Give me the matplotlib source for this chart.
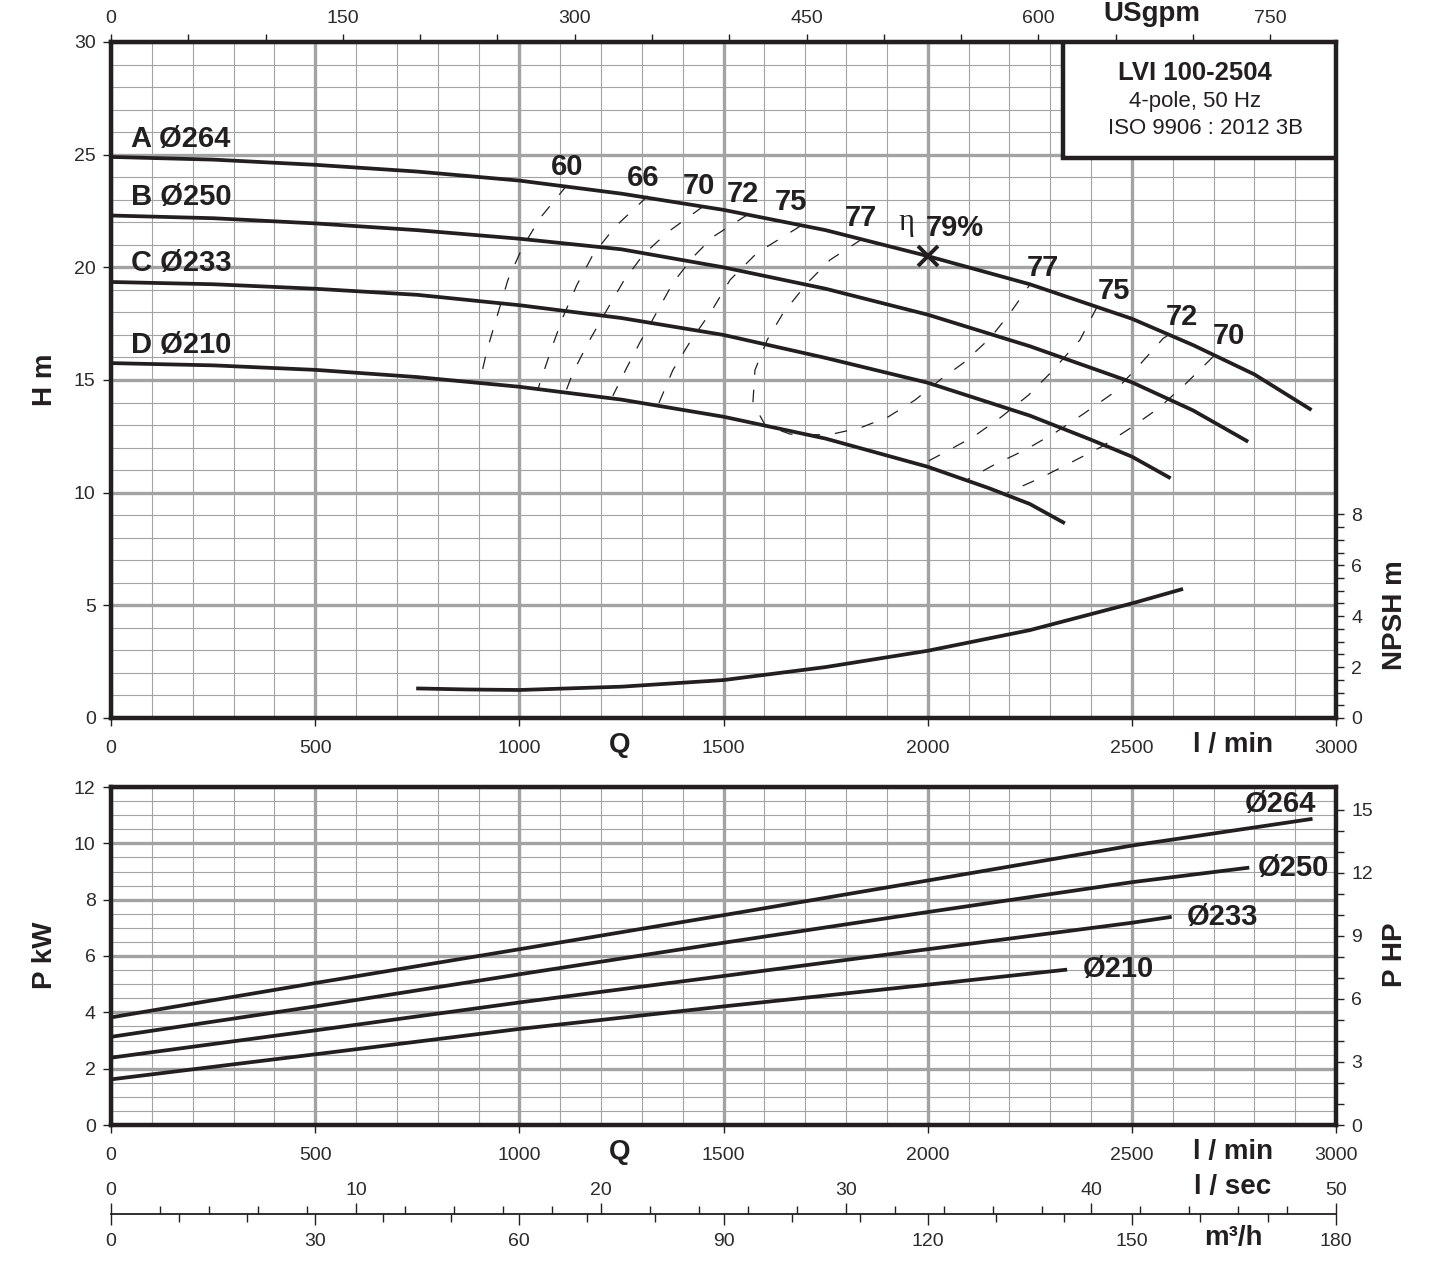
import matplotlib.pyplot as plt
from matplotlib.patches import Rectangle
from matplotlib.ticker import MultipleLocator

plt.rcParams['font.family'] = ['Liberation Sans', 'DejaVu Sans']

INK = '#231f20'
GRID = '#a3a3a3'
TXT = '#2b2b2b'

# head curves (Q l/min, H m)
q_a = [0, 250, 500, 750, 1000, 1250, 1500, 1750, 2000, 2250, 2500, 2650, 2800, 2940]
h_a = [24.9, 24.78, 24.55, 24.25, 23.85, 23.27, 22.55, 21.65, 20.5, 19.25, 17.72, 16.55, 15.25, 13.67]
q_b = [0, 250, 500, 750, 1000, 1250, 1500, 1750, 2000, 2250, 2500, 2650, 2785]
h_b = [22.3, 22.18, 21.95, 21.65, 21.27, 20.8, 20.0, 19.05, 17.9, 16.5, 14.9, 13.65, 12.26]
q_c = [0, 250, 500, 750, 1000, 1250, 1500, 1750, 2000, 2250, 2400, 2500, 2595]
h_c = [19.35, 19.25, 19.05, 18.78, 18.32, 17.75, 17.0, 15.98, 14.88, 13.42, 12.35, 11.6, 10.64]
q_d = [0, 250, 500, 750, 1000, 1250, 1500, 1750, 2000, 2150, 2250, 2336]
h_d = [15.75, 15.65, 15.45, 15.13, 14.7, 14.13, 13.37, 12.4, 11.15, 10.2, 9.5, 8.64]
head_labels = ['A Ø264', 'B Ø250', 'C Ø233', 'D Ø210']
head_label_h = [25.7, 23.12, 20.19, 16.55]

# NPSH (m)
q_npsh = [752, 875, 1000, 1250, 1500, 1750, 2000, 2250, 2500, 2621]
npsh = [1.16, 1.12, 1.10, 1.23, 1.49, 2.0, 2.64, 3.45, 4.5, 5.05]

# iso-efficiency lines (Q, H)
eta_lines = [
    [(1117, 23.65), (1051, 22.19), (1007, 20.86), (972, 19.44), (945, 17.8), (921, 16.33), (904, 15.0)],
    [(1315, 23.17), (1234, 21.79), (1180, 20.55), (1141, 19.22), (1107, 17.8), (1080, 16.46), (1046, 14.62)],
    [(1450, 22.7), (1364, 21.57), (1303, 20.55), (1254, 19.35), (1210, 17.97), (1168, 16.64), (1131, 15.31), (1115, 14.55)],
    [(1560, 22.35), (1474, 21.35), (1423, 20.41), (1376, 19.3), (1337, 18.02), (1296, 16.69), (1264, 15.58), (1229, 14.3)],
    [(1690, 21.85), (1582, 20.64), (1516, 19.44), (1472, 18.1), (1418, 16.69), (1376, 15.44), (1340, 13.9)],
    [(1839, 21.25), (1761, 20.33), (1705, 19.3), (1646, 17.97), (1607, 16.78), (1577, 15.44), (1572, 13.98),
     (1602, 13.0), (1663, 12.6), (1756, 12.56), (1834, 12.87), (1903, 13.36), (1969, 14.11), (2030, 15.0),
     (2087, 15.75), (2153, 16.86), (2202, 17.97), (2251, 19.25)],
    [(2415, 18.25), (2373, 16.78), (2300, 15.3), (2247, 14.33), (2181, 13.37), (2112, 12.48), (2040, 11.77), (1993, 11.32)],
    [(2590, 17.0), (2577, 16.85), (2504, 15.37), (2451, 14.38), (2381, 13.49), (2312, 12.66), (2238, 11.89), (2162, 11.23), (2099, 10.6)],
    [(2700, 16.05), (2630, 14.8), (2565, 13.74), (2496, 12.86), (2426, 12.04), (2350, 11.33), (2275, 10.64), (2195, 10.0)],
]
eta_text = ['60', '66', '70', '72', '75', '77', '77', '75', '72', '70']
eta_text_q = [1117, 1303, 1440, 1548, 1665, 1837, 2282, 2456, 2622, 2738]
eta_text_h = [24.45, 23.97, 23.61, 23.26, 22.9, 22.2, 19.97, 18.95, 17.8, 16.95]
bep_q, bep_h = 2000, 20.5

# power curves (kW)
q_p264 = [0, 500, 1000, 1500, 2000, 2500, 2938]
p264 = [3.82, 5.04, 6.24, 7.45, 8.68, 9.92, 10.86]
q_p250 = [0, 500, 1000, 1500, 2000, 2500, 2783]
p250 = [3.13, 4.21, 5.35, 6.47, 7.56, 8.62, 9.13]
q_p233 = [0, 500, 1000, 1500, 2000, 2500, 2593]
p233 = [2.39, 3.36, 4.35, 5.29, 6.24, 7.18, 7.38]
q_p210 = [0, 500, 1000, 1500, 2000, 2337]
p210 = [1.62, 2.51, 3.41, 4.21, 4.98, 5.51]
power_labels = ['Ø264', 'Ø250', 'Ø233', 'Ø210']
power_label_q = [2863, 2895, 2721, 2466]
power_label_p = [11.4, 9.12, 7.38, 5.54]

# scale ticks
gpm_major = [0, 150, 300, 450, 600, 750]
gpm_minor = list(range(0, 751, 50))

W, H = 1431, 1269
fig = plt.figure(figsize=(W / 100, H / 100), dpi=100)


def fx(px):
    return px / W


def fy(py):
    return 1 - py / H


L, AW = fx(111), fx(1336) - fx(111)


def style(ax, ymax, ymaj, ymin):
    ax.set_xlim(0, 3000)
    ax.set_ylim(0, ymax)
    ax.xaxis.set_major_locator(MultipleLocator(500))
    ax.xaxis.set_minor_locator(MultipleLocator(100))
    ax.yaxis.set_major_locator(MultipleLocator(ymaj))
    ax.yaxis.set_minor_locator(MultipleLocator(ymin))
    ax.grid(which='major', color=GRID, lw=2.4)
    ax.grid(which='minor', color=GRID, lw=0.8)
    ax.set_axisbelow(True)
    ax.tick_params(which='minor', length=0)
    ax.tick_params(which='major', length=6, width=1, color=INK, labelsize=14, labelcolor=TXT, pad=5)
    ax.tick_params(axis='x', which='major', pad=10)
    for s in ax.spines.values():
        s.set_linewidth(3.2)
        s.set_color(INK)


def side_axis(ax, ymax, major, minor):
    tw = ax.twinx()
    tw.set_ylim(0, ymax)
    tw.set_yticks(major)
    tw.set_yticks(minor, minor=True)
    tw.tick_params(which='both', length=6, width=1, color=INK, labelsize=14, labelcolor=TXT, pad=5)
    for s in tw.spines.values():
        s.set_visible(False)
    return tw


# ---- head / NPSH chart
ax1 = fig.add_axes([L, fy(718), AW, fy(42) - fy(718)])
style(ax1, 30, 5, 1)
for q, h in [(q_a, h_a), (q_b, h_b), (q_c, h_c), (q_d, h_d)]:
    ax1.plot(q, h, color=INK, lw=2.7, solid_capstyle='butt')
for lab, y in zip(head_labels, head_label_h):
    ax1.text(49, y, lab, fontsize=21, fontweight='bold', color=INK, ha='left', va='center')
for pts in eta_lines:
    ax1.plot([p[0] for p in pts], [p[1] for p in pts], color=INK, lw=0.9, ls=(0, (10, 12)))
for t, q, h in zip(eta_text, eta_text_q, eta_text_h):
    ax1.text(q, h, t, fontsize=21, fontweight='bold', color=INK, ha='center', va='center')
ax1.text(1949, 22.0, 'η', fontsize=22, family=['Liberation Serif', 'DejaVu Serif'], color=INK, ha='center', va='center')
ax1.text(2067, 21.75, '79%', fontsize=21, fontweight='bold', color=INK, ha='center', va='center')
ax1.plot([bep_q], [bep_h], marker='x', ms=15, mew=2.8, color=INK)

ax1.add_patch(Rectangle((2331, 24.85), 669, 5.15, fc='white', ec=INK, lw=3.2, zorder=3))
ax1.text(2655, 28.62, 'LVI 100-2504', fontsize=18.5, fontweight='bold', color=INK, ha='center', va='center', zorder=4)
ax1.text(2655, 27.38, '4-pole, 50 Hz', fontsize=16, color=INK, ha='center', va='center', zorder=4)
ax1.text(2680, 26.14, 'ISO 9906 : 2012 3B', fontsize=16, color=INK, ha='center', va='center', zorder=4)

sec = ax1.secondary_xaxis('top', functions=(lambda q: q / 3.785411784, lambda g: g * 3.785411784))
sec.set_xticks(gpm_major)
sec.set_xticks(gpm_minor, minor=True)
sec.tick_params(which='both', length=6, width=1, color=INK, labelsize=14, labelcolor=TXT, pad=5)
sec.spines['top'].set_visible(False)

axn = side_axis(ax1, 676 / 25.46, [0, 2, 4, 6, 8], [i * 0.5 for i in range(17)])
axn.plot(q_npsh, npsh, color=INK, lw=2.7)

# ---- power chart
ax2 = fig.add_axes([L, fy(1125), AW, fy(787) - fy(1125)])
style(ax2, 12, 2, 0.5)
for q, p in [(q_p264, p264), (q_p250, p250), (q_p233, p233), (q_p210, p210)]:
    ax2.plot(q, p, color=INK, lw=2.7)
for lab, q, p in zip(power_labels, power_label_q, power_label_p):
    ax2.text(q, p, lab, fontsize=21, fontweight='bold', color=INK, ha='center', va='center')
side_axis(ax2, 12 / 0.7457, [0, 3, 6, 9, 12, 15], list(range(16)))

# ---- l/sec and m3/h scales
ax3 = fig.add_axes([L, fy(1214), AW, 1e-5])
ax3.set_xlim(0, 50)
ax3.set_yticks([])
ax3.patch.set_visible(False)
for k in ['left', 'right', 'bottom']:
    ax3.spines[k].set_visible(False)
ax3.spines['top'].set_linewidth(1.3)
ax3.spines['top'].set_color(INK)
ax3.xaxis.set_major_locator(MultipleLocator(10))
ax3.xaxis.set_minor_locator(MultipleLocator(2))
ax3.tick_params(axis='x', which='both', top=True, bottom=False, labeltop=True, labelbottom=False,
                direction='out', width=1, color=INK, labelsize=14, labelcolor=TXT)
ax3.tick_params(axis='x', which='major', length=8, pad=3)
ax3.tick_params(axis='x', which='minor', length=5.5)

ax4 = fig.add_axes([L, fy(1214), AW, 1e-5])
ax4.set_xlim(0, 180)
ax4.set_yticks([])
ax4.patch.set_visible(False)
for k in ['left', 'right', 'top', 'bottom']:
    ax4.spines[k].set_visible(False)
ax4.xaxis.set_major_locator(MultipleLocator(30))
ax4.xaxis.set_minor_locator(MultipleLocator(10))
ax4.tick_params(axis='x', which='both', direction='out', width=1, color=INK, labelsize=14, labelcolor=TXT)
ax4.tick_params(axis='x', which='major', length=8, pad=6)
ax4.tick_params(axis='x', which='minor', length=5.5)

# ---- axis titles
bold = dict(fontsize=20, fontweight='bold', color=INK, ha='center', va='center')
fig.text(fx(45), fy(380), 'H m', rotation=90, **bold)
fig.text(fx(1395), fy(615), 'NPSH m', rotation=90, **bold)
fig.text(fx(45), fy(955), 'P kW', rotation=90, **bold)
fig.text(fx(1395), fy(955), 'P HP', rotation=90, **bold)
fig.text(fx(620), fy(745), 'Q', **bold)
fig.text(fx(1233), fy(745), 'l / min', **bold)
fig.text(fx(620), fy(1152), 'Q', **bold)
fig.text(fx(1233), fy(1152), 'l / min', **bold)
fig.text(fx(1233), fy(1187), 'l / sec', **bold)
fig.text(fx(1233), fy(1238), 'm³/h', **bold)
fig.text(fx(1152), fy(14), 'USgpm', **bold)

fig.savefig('out.png', dpi=100)
